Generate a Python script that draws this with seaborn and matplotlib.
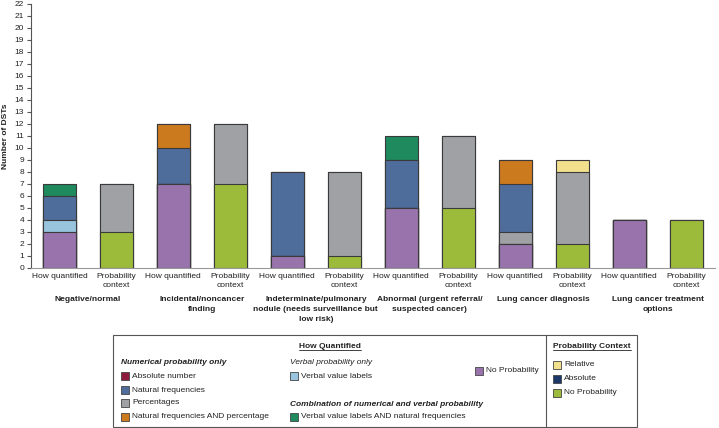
import numpy as np
import pandas as pd
import seaborn as sns
from matplotlib import pyplot as plt
from matplotlib.patches import Rectangle
from matplotlib.lines import Line2D

sns.set_style("white")
plt.rcParams['font.family'] = ['Liberation Sans', 'DejaVu Sans']

groups = [
    "Negative/normal",
    "Incidental/noncancer\nfinding",
    "Indeterminate/pulmonary\nnodule (needs surveillance but\nlow risk)",
    "Abnormal (urgent referral/\nsuspected cancer)",
    "Lung cancer diagnosis",
    "Lung cancer treatment\noptions",
]
bar_labels = ["How quantified", "Probability\ncontext"]

# How quantified (stack order bottom -> top)
hq_no_prob = [3, 7, 1, 5, 2, 4]
hq_abs_number = [0, 0, 0, 0, 0, 0]
hq_verbal = [1, 0, 0, 0, 0, 0]
hq_percent = [0, 0, 0, 0, 1, 0]
hq_nat_freq = [2, 3, 7, 4, 4, 0]
hq_nf_and_pct = [0, 2, 0, 0, 2, 0]
hq_verbal_nf = [1, 0, 0, 2, 0, 0]

# Probability context (stack order bottom -> top)
pc_no_prob = [3, 7, 1, 5, 2, 4]
pc_absolute = [4, 5, 7, 6, 6, 0]
pc_relative = [0, 0, 0, 0, 1, 0]

C_PURPLE = "#9873AC"
C_MAROON = "#8E1B3E"
C_LBLUE = "#98C5DD"
C_GRAY = "#A0A1A4"
C_BLUE = "#4E6D9B"
C_ORANGE = "#CB7A1E"
C_GREEN = "#1F8A5E"
C_LIME = "#9CBB3A"
C_YELLOW = "#F2E08D"
C_NAVY = "#1B3868"
TXT = "#222222"

hq_ids = [f"g{i}_hq" for i in range(len(groups))]
pc_ids = [f"g{i}_pc" for i in range(len(groups))]
bar_ids = [b for pair in zip(hq_ids, pc_ids) for b in pair]

fig = plt.figure(figsize=(7.19, 4.28), dpi=100)
ax = fig.add_axes([0.043, 0.374, 0.951, 0.617])


def draw_stack(ids, layers):
    # painter's stacking: cumulative heights, tallest first
    tops = np.cumsum([vals for vals, _ in layers], axis=0)
    for i in reversed(range(len(layers))):
        df = pd.DataFrame({"bar": ids, "count": tops[i]})
        sns.barplot(data=df, x="bar", y="count", order=bar_ids,
                    color=layers[i][1], saturation=1, width=0.58,
                    edgecolor="#3a3a3a", linewidth=0.8, errorbar=None, ax=ax)


draw_stack(hq_ids, [
    (hq_no_prob, C_PURPLE),
    (hq_abs_number, C_MAROON),
    (hq_verbal, C_LBLUE),
    (hq_percent, C_GRAY),
    (hq_nat_freq, C_BLUE),
    (hq_nf_and_pct, C_ORANGE),
    (hq_verbal_nf, C_GREEN),
])
draw_stack(pc_ids, [
    (pc_no_prob, C_LIME),
    (pc_absolute, C_GRAY),
    (pc_relative, C_YELLOW),
])

ax.set_xlim(-0.5, len(bar_ids) - 0.5)
ax.set_ylim(0, 22)
ax.set_yticks(range(0, 23))
ax.set_xticks(range(len(bar_ids)))
ax.set_xticklabels(bar_labels * len(groups), fontsize=6, color=TXT, linespacing=1.4)
ax.tick_params(axis="y", labelsize=6, labelcolor=TXT, length=3, width=0.8,
               color="#555555", left=True, pad=2)
ax.tick_params(axis="x", length=0, pad=4)
ax.set_xlabel("")
ax.set_ylabel("Number of DSTs", fontsize=6, fontweight="bold", color=TXT, labelpad=4)
sns.despine(ax=ax)
ax.spines["left"].set_color("#555555")
ax.spines["left"].set_linewidth(0.8)
ax.spines["bottom"].set_color("#999999")
ax.spines["bottom"].set_linewidth(0.8)

for i, g in enumerate(groups):
    ax.text(2 * i + 0.5, -0.108, g, transform=ax.get_xaxis_transform(),
            ha="center", va="top", fontsize=6, fontweight="bold", color=TXT,
            linespacing=1.55)

# legend box
W, H = 719, 428


def fx(px):
    return px / W


def fy(py):
    return 1 - py / H


fig.patches.append(Rectangle((fx(113), fy(427)), fx(637) - fx(113), fy(335) - fy(427),
                             transform=fig.transFigure, fill=False,
                             edgecolor="#555555", linewidth=0.8))
fig.lines.append(Line2D([fx(546), fx(546)], [fy(427), fy(335)],
                        transform=fig.transFigure, color="#555555", linewidth=0.8))


def swatch(px, py, color, label):
    fig.patches.append(Rectangle((fx(px), fy(py + 4)), 8 / W, 8 / H,
                                 transform=fig.transFigure, facecolor=color,
                                 edgecolor="#444444", linewidth=0.6))
    fig.text(fx(px + 11), fy(py), label, fontsize=6, color=TXT, va="center", ha="left")


headers = [
    fig.text(fx(330), fy(346), "How Quantified", fontsize=6, fontweight="bold",
             color=TXT, ha="center", va="center"),
    fig.text(fx(592), fy(346), "Probability Context", fontsize=6, fontweight="bold",
             color=TXT, ha="center", va="center"),
]

fig.text(fx(121), fy(363), "Numerical probability only", fontsize=6, fontweight="bold",
         fontstyle="italic", color=TXT, va="center")
swatch(121, 376, C_MAROON, "Absolute number")
swatch(121, 390, C_BLUE, "Natural frequencies")
swatch(121, 403, C_GRAY, "Percentages")
swatch(121, 417, C_ORANGE, "Natural frequencies AND percentage")

fig.text(fx(290), fy(363), "Verbal probability only", fontsize=6,
         fontstyle="italic", color=TXT, va="center")
swatch(290, 376, C_LBLUE, "Verbal value labels")
fig.text(fx(290), fy(404), "Combination of numerical and verbal probability", fontsize=6,
         fontweight="bold", fontstyle="italic", color=TXT, va="center")
swatch(290, 417, C_GREEN, "Verbal value labels AND natural frequencies")

swatch(475, 371, C_PURPLE, "No Probability")

swatch(553, 365, C_YELLOW, "Relative")
swatch(553, 379, C_NAVY, "Absolute")
swatch(553, 393, C_LIME, "No Probability")

# underline the two legend headers
fig.canvas.draw()
inv = fig.transFigure.inverted()
for t in headers:
    bb = t.get_window_extent().transformed(inv)
    fig.lines.append(Line2D([bb.x0, bb.x1], [bb.y0 - 0.002, bb.y0 - 0.002],
                            transform=fig.transFigure, color=TXT, linewidth=0.6))

fig.savefig("out.png", dpi=100)
